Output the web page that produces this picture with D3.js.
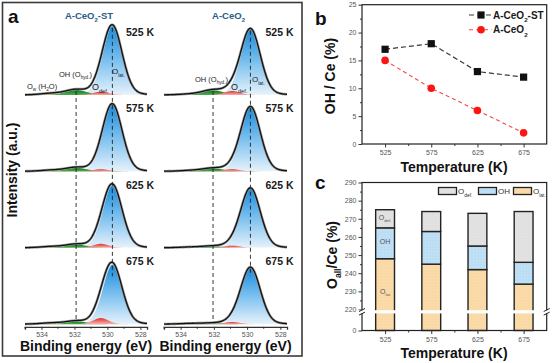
<!DOCTYPE html>
<html><head><meta charset="utf-8">
<script src="https://cdn.jsdelivr.net/npm/d3@7"></script>
<style>body{margin:0;background:#fff}svg{display:block}text{font-family:"Liberation Sans",Arial,sans-serif}</style>
</head><body><svg id="c" width="553" height="363"></svg>
<script>
// ---------------- data ----------------
const temperatures = [525, 575, 625, 675];
const tempLabels = ["525 K", "575 K", "625 K", "675 K"];
const bindingTicks = [534, 532, 530, 528];
const bindingMinor = [535, 533, 531, 529];
// fitted peak centres (eV)
const stCenters = {lat: 529.7, def: 530.4, oh: 531.9, w: 533.4};
const ceCenters = {lat: 529.8, def: 530.9, oh: 532.05, w: 533.4};
// fitted peak heights (a.u.) for 525/575/625/675 K
const stLat = [0.96, 0.93, 0.87, 0.83];
const stOH  = [0.07, 0.05, 0.045, 0.04];
const stDef = [0.045, 0.03, 0.055, 0.085];
const stW   = [0.02, 0.015, 0.015, 0.015];
const ceLat = [0.92, 0.90, 0.83, 0.79];
const ceOH  = [0.065, 0.04, 0.02, 0.012];
const ceDef = [0.055, 0.03, 0.03, 0.03];
const ceW   = [0.01, 0.01, 0.008, 0.008];
const fwhm = {lat: 1.4, def: 1.1, oh: 1.5, w: 1.5};
// panel b : OH / Ce (%)
const ohST = [17, 18, 13, 12];
const ohCe = [15, 10, 6, 2];
const bTicks = [0, 5, 10, 15, 20, 25];
// panel c : O_all / Ce (%)
const oLat = [248, 245, 242, 234];
const oOH  = [17, 18, 13, 12];
const oDef = [10, 11, 18, 28];
const cTicks = [0, 220, 230, 240, 250, 260, 270, 280, 290];

// ---------------- helpers ----------------
const svg = d3.select("#c");
const defs = svg.append("defs");
function grad(id, stops) {
  const g = defs.append("linearGradient").attr("id", id)
    .attr("x1", 0).attr("y1", 0).attr("x2", 0).attr("y2", 1);
  stops.forEach(([o, c]) => g.append("stop").attr("offset", o).attr("stop-color", c));
}
grad("gBlue", [[0, "#178ad9"], [0.45, "#70bbee"], [1, "#e6f2fb"]]);
grad("gGreen", [[0, "#0b7a1c"], [1, "#4fae52"]]);
grad("gRed", [[0, "#e2302e"], [1, "#f6b4b0"]]);
grad("gYel", [[0, "#e3c22a"], [1, "#f4e7a6"]]);
function dots(id, bg, dot) {
  const p = defs.append("pattern").attr("id", id).attr("width", 3).attr("height", 3)
    .attr("patternUnits", "userSpaceOnUse");
  p.append("rect").attr("width", 3).attr("height", 3).attr("fill", bg);
  p.append("circle").attr("cx", 1).attr("cy", 1).attr("r", 0.45).attr("fill", dot);
}
dots("pLat", "#fbdba9", "#eec487");
dots("pOH", "#bfe0f5", "#98c8e6");
dots("pDef", "#e2e2e2", "#cfcfcf");

function rich(sel, parts, size) {
  let shift = 0;
  parts.forEach(p => {
    const s = p.sub ? size * 0.62 : (p.size || size);
    const target = p.sub ? size * 0.32 : 0;
    sel.append("tspan").text(p.t).attr("font-size", s).attr("dy", target - shift);
    shift = target;
  });
  return sel;
}
function label(x, y, parts, size, opts = {}) {
  const t = svg.append("text").attr("x", x).attr("y", y)
    .attr("font-weight", opts.bold ? "bold" : null)
    .attr("fill", opts.fill || "#222")
    .attr("text-anchor", opts.anchor || "start");
  if (opts.rotate) t.attr("transform", `rotate(-90,${x},${y})`);
  return rich(t, parts, size);
}

// ---------------- panel a ----------------
svg.append("rect").attr("x", 2.5).attr("y", 2.5).attr("width", 299.5).attr("height", 353.5)
  .attr("fill", "none").attr("stroke", "#3a3a3a").attr("stroke-width", 1.6);

const eDomain = [535, 527.6];
const rowY = d3.scaleLinear().domain([0, 3]).range([95, 324.2]);
const ampPx = 72;
const axisY = 326.8;
function pv(e, c, h, w) {
  const u = (e - c) / w;
  return h * (0.9 * Math.exp(-4 * Math.LN2 * u * u) + 0.1 / (1 + 4 * u * u));
}
const grid = d3.range(527.6, 535.001, 0.02);
const panels = [
  {name: [{t: "A-CeO"}, {t: "2", sub: true}, {t: "-ST"}], range: [25, 147], c: stCenters, lat: stLat, oh: stOH, def: stDef, w: stW},
  {name: [{t: "A-CeO"}, {t: "2", sub: true}], range: [164, 287], c: ceCenters, lat: ceLat, oh: ceOH, def: ceDef, w: ceW}
];
const comps = [
  {k: "lat", fill: "url(#gBlue)"},
  {k: "w", fill: "url(#gYel)"},
  {k: "oh", fill: "url(#gGreen)"},
  {k: "def", fill: "url(#gRed)"}
];

panels.forEach((p, pi) => {
  const x = d3.scaleLinear().domain(eDomain).range(p.range);
  const g = svg.append("g");
  temperatures.forEach((T, i) => {
    const base = rowY(i);
    const y = v => base - v * ampPx;
    const h = {lat: p.lat[i], oh: p.oh[i], def: p.def[i], w: p.w[i]};
    comps.forEach(cmp => {
      const area = d3.area().x(e => x(e)).y0(base)
        .y1(e => y(pv(e, p.c[cmp.k], h[cmp.k], fwhm[cmp.k])));
      g.append("path").datum(grid).attr("d", area).attr("fill", cmp.fill)
        .attr("stroke", cmp.k === "lat" ? "#fff" : "none").attr("stroke-width", 0.8);
    });
    const env = e => comps.reduce((s, cmp) => s + pv(e, p.c[cmp.k], h[cmp.k], fwhm[cmp.k]), 0);
    const line = d3.line().x(e => x(e)).y(e => y(env(e)));
    g.append("path").datum(grid).attr("d", line).attr("fill", "none")
      .attr("stroke", "#9a9a9a").attr("stroke-width", 2.6);
    g.append("path").datum(grid).attr("d", line).attr("fill", "none")
      .attr("stroke", "#111").attr("stroke-width", 1.3);
    label((p.range[0] + p.range[1]) / 2 + 54, base - 59, [{t: tempLabels[i]}], 10.5,
      {bold: true, anchor: "middle", fill: "#1a1a1a"});
  });
  // guide lines
  const topLat = rowY(0) - p.lat[0] * ampPx;
  g.append("line").attr("x1", x(p.c.lat)).attr("x2", x(p.c.lat))
    .attr("y1", topLat + 2).attr("y2", rowY(3) - 48)
    .attr("stroke", "#222").attr("stroke-width", 0.9).attr("stroke-dasharray", "4,3");
  g.append("line").attr("x1", x(p.c.oh)).attr("x2", x(p.c.oh))
    .attr("y1", rowY(0) - 4).attr("y2", rowY(3) - 3)
    .attr("stroke", "#222").attr("stroke-width", 0.9).attr("stroke-dasharray", "4,3");
  // axis
  const ax = svg.append("g").attr("transform", `translate(0,${axisY})`)
    .call(d3.axisBottom(x).tickValues(bindingTicks).tickSize(3).tickPadding(2).tickFormat(d3.format("d")));
  ax.select(".domain").attr("stroke", "#333").attr("stroke-width", 1.3);
  ax.selectAll(".tick line").attr("stroke", "#333");
  ax.selectAll("text").attr("font-size", 7).attr("fill", "#555")
    .attr("font-family", '"Liberation Sans",Arial,sans-serif');
  ax.selectAll(".minor").data(bindingMinor.filter(v => v <= eDomain[0] && v >= eDomain[1])).enter()
    .append("line").attr("x1", d => x(d)).attr("x2", d => x(d)).attr("y1", 0).attr("y2", 2)
    .attr("stroke", "#333");
  // title
  label((p.range[0] + p.range[1]) / 2 + 3, 19, p.name, 9.5, {bold: true, anchor: "middle", fill: "#2b5d88"});
  label((p.range[0] + p.range[1]) / 2, 351, [{t: "Binding energy (eV)"}], 14, {bold: true, anchor: "middle", fill: "#111"});
});
// component annotations
label(27, 89, [{t: "O"}, {t: "w", sub: true}, {t: " (H"}, {t: "2", sub: true}, {t: "O)"}], 7.5);
label(59, 77, [{t: "OH (O"}, {t: "hyd.", sub: true}, {t: ")"}], 7.5);
label(92, 90, [{t: "O"}, {t: "def.", sub: true}], 9);
label(112, 74, [{t: "O"}, {t: "lat.", sub: true}], 8);
label(195, 82, [{t: "OH (O"}, {t: "hyd.", sub: true}, {t: ")"}], 7.5);
label(231, 90, [{t: "O"}, {t: "def.", sub: true}], 9);
label(252, 82, [{t: "O"}, {t: "lat.", sub: true}], 8);
label(8, 23, [{t: "a"}], 19, {bold: true, fill: "#111"});
label(17, 170, [{t: "Intensity (a.u.)"}], 14, {bold: true, anchor: "middle", rotate: true, fill: "#111"});

// ---------------- panel b ----------------
const xT = d3.scaleLinear().domain([500, 700]).range([362, 546.7]);
const yB = d3.scaleLinear().domain([0, 25]).range([144, 4.7]);
const gb = svg.append("g");
gb.append("rect").attr("x", xT.range()[0]).attr("y", yB(25)).attr("width", xT.range()[1] - xT.range()[0])
  .attr("height", yB(0) - yB(25)).attr("fill", "none").attr("stroke", "#222").attr("stroke-width", 1.2);
function styleAxis(a) {
  a.select(".domain").remove();
  a.selectAll(".tick line").attr("stroke", "#333");
  a.selectAll("text").attr("font-size", 7).attr("fill", "#555")
    .attr("font-family", '"Liberation Sans",Arial,sans-serif');
}
const minorT = [550, 600, 650];
gb.append("g").attr("transform", `translate(0,${yB(0)})`)
  .call(d3.axisBottom(xT).tickValues(temperatures).tickSize(3.5).tickPadding(3)).call(styleAxis);
gb.append("g").attr("transform", `translate(0,${yB(0)})`)
  .call(d3.axisBottom(xT).tickValues(minorT).tickSize(2).tickFormat("")).call(styleAxis);
gb.append("g").attr("transform", `translate(${xT.range()[0]},0)`)
  .call(d3.axisLeft(yB).tickValues(bTicks).tickSize(3.5).tickPadding(2)).call(styleAxis);
gb.append("g").attr("transform", `translate(${xT.range()[0]},0)`)
  .call(d3.axisLeft(yB).tickValues(d3.range(2.5, 25, 5)).tickSize(2).tickFormat("")).call(styleAxis);
const lineB = d3.line().x((d, i) => xT(temperatures[i])).y(d => yB(d));
gb.append("path").datum(ohST).attr("d", lineB).attr("fill", "none").attr("stroke", "#3a3a3a")
  .attr("stroke-width", 1.2).attr("stroke-dasharray", "5,3");
gb.append("path").datum(ohCe).attr("d", lineB).attr("fill", "none").attr("stroke", "#f04a48")
  .attr("stroke-width", 1.1).attr("stroke-dasharray", "4,3");
gb.selectAll(".sq").data(ohST).enter().append("rect")
  .attr("x", (d, i) => xT(temperatures[i]) - 3.6).attr("y", d => yB(d) - 3.6)
  .attr("width", 7.2).attr("height", 7.2).attr("fill", "#111");
gb.selectAll(".ci").data(ohCe).enter().append("circle")
  .attr("cx", (d, i) => xT(temperatures[i])).attr("cy", d => yB(d)).attr("r", 3.8).attr("fill", "#ff1414");
// legend
gb.append("line").attr("x1", 469).attr("x2", 492).attr("y1", 15).attr("y2", 15)
  .attr("stroke", "#3a3a3a").attr("stroke-width", 1.2).attr("stroke-dasharray", "5,3.5");
gb.append("rect").attr("x", 477.4).attr("y", 11.4).attr("width", 7.2).attr("height", 7.2).attr("fill", "#111");
gb.append("line").attr("x1", 469).attr("x2", 492).attr("y1", 29.7).attr("y2", 29.7)
  .attr("stroke", "#f04a48").attr("stroke-width", 1.1).attr("stroke-dasharray", "4,3.5");
gb.append("circle").attr("cx", 481).attr("cy", 29.7).attr("r", 3.8).attr("fill", "#ff1414");
label(493, 18.6, [{t: "A-CeO"}, {t: "2", sub: true}, {t: "-ST"}], 10, {bold: true, fill: "#1a1a1a"});
label(493, 33.3, [{t: "A-CeO"}, {t: "2", sub: true}], 10, {bold: true, fill: "#1a1a1a"});
label(315, 25, [{t: "b"}], 19, {bold: true, fill: "#111"});
label(335, 76, [{t: "OH / Ce (%)"}], 14, {bold: true, anchor: "middle", rotate: true, fill: "#111"});
label(454, 172, [{t: "Temperature (K)"}], 14, {bold: true, anchor: "middle", fill: "#111"});

// ---------------- panel c ----------------
const yC = d3.scaleLinear().domain([0, 220, 290]).range([330.5, 309.5, 182.5]);
const gc = svg.append("g");
const stackData = temperatures.map((T, i) => ({T, lat: oLat[i], oh: oOH[i], def: oDef[i]}));
const series = d3.stack().keys(["lat", "oh", "def"])(stackData);
const fills = {lat: "url(#pLat)", oh: "url(#pOH)", def: "url(#pDef)"};
const halfW = 10.2;
series.forEach(s => {
  gc.selectAll(null).data(s).enter().append("rect")
    .attr("x", d => xT(d.data.T - halfW)).attr("width", d => xT(d.data.T + halfW) - xT(d.data.T - halfW))
    .attr("y", d => yC(d[1])).attr("height", d => yC(d[0]) - yC(d[1]))
    .attr("fill", fills[s.key]).attr("stroke", "#222").attr("stroke-width", 1.4);
});
gc.append("rect").attr("x", xT.range()[0]).attr("y", yC(290)).attr("width", xT.range()[1] - xT.range()[0])
  .attr("height", yC(0) - yC(290)).attr("fill", "none").attr("stroke", "#222").attr("stroke-width", 1.2);
gc.append("g").attr("transform", `translate(0,${yC(0)})`)
  .call(d3.axisBottom(xT).tickValues(temperatures).tickSize(3.5).tickPadding(3)).call(styleAxis);
gc.append("g").attr("transform", `translate(0,${yC(0)})`)
  .call(d3.axisBottom(xT).tickValues(minorT).tickSize(2).tickFormat("")).call(styleAxis);
gc.append("g").attr("transform", `translate(${xT.range()[0]},0)`)
  .call(d3.axisLeft(yC).tickValues(cTicks).tickSize(3.5).tickPadding(2)).call(styleAxis);
gc.append("g").attr("transform", `translate(${xT.range()[0]},0)`)
  .call(d3.axisLeft(yC).tickValues(d3.range(225, 290, 10)).tickSize(2).tickFormat("")).call(styleAxis);
// axis break
const brY = 311.8;
gc.append("rect").attr("x", xT.range()[0] - 4).attr("y", brY - 1.6).attr("width", xT.range()[1] - xT.range()[0] + 8)
  .attr("height", 3.2).attr("fill", "#fff");
[xT.range()[0], xT.range()[1]].forEach(bx => {
  [-1.8, 1.8].forEach(o => gc.append("line").attr("x1", bx - 3).attr("x2", bx + 3)
    .attr("y1", brY + o + 1.5).attr("y2", brY + o - 1.5).attr("stroke", "#222").attr("stroke-width", 1));
});
// in-bar labels
label(xT(525), 220, [{t: "O"}, {t: "def.", sub: true}], 7, {anchor: "middle", fill: "#555"});
label(xT(525), 244, [{t: "OH"}], 7, {anchor: "middle", fill: "#555"});
label(xT(525), 294, [{t: "O"}, {t: "lat", sub: true}], 7, {anchor: "middle", fill: "#555"});
// legend
const leg = [
  {x: 438.5, fill: "url(#pDef)", parts: [{t: "O"}, {t: "def.", sub: true}]},
  {x: 478.5, fill: "url(#pOH)", parts: [{t: "OH"}]},
  {x: 513.5, fill: "url(#pLat)", parts: [{t: "O"}, {t: "lat.", sub: true}]}
];
leg.forEach(l => {
  gc.append("rect").attr("x", l.x).attr("y", 187.5).attr("width", 18).attr("height", 7)
    .attr("fill", l.fill).attr("stroke", "#222").attr("stroke-width", 1.3);
  label(l.x + 19.5, 194, l.parts, 8, {fill: "#333"});
});
label(315, 189, [{t: "c"}], 19, {bold: true, fill: "#111"});
label(337, 255, [{t: "O"}, {t: "all", sub: true}, {t: "/Ce (%)"}], 14, {bold: true, anchor: "middle", rotate: true, fill: "#111"});
label(454, 358, [{t: "Temperature (K)"}], 14, {bold: true, anchor: "middle", fill: "#111"});
</script></body></html>
